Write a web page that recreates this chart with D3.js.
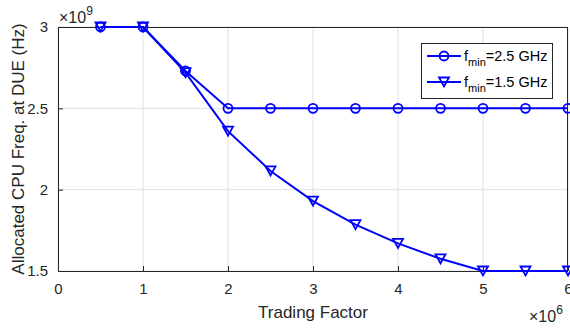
<!DOCTYPE html>
<html>
<head>
<meta charset="utf-8">
<script src="https://cdn.jsdelivr.net/npm/d3@7/dist/d3.min.js"></script>
<style>
  body { margin: 0; background: #fff; }
  svg { display: block; }
  text { font-family: "Liberation Sans", Arial, Helvetica, sans-serif; }
</style>
</head>
<body>
<svg id="chart" width="570" height="329"></svg>
<script>
// Trading factor (×10^6) and allocated CPU frequency (×10^9 Hz)
const tradingFactor = [0.5, 1, 1.5, 2, 2.5, 3, 3.5, 4, 4.5, 5, 5.5, 6];
const freqFmin25 = [3, 3, 2.73, 2.5, 2.5, 2.5, 2.5, 2.5, 2.5, 2.5, 2.5, 2.5];
const freqFmin15 = [3, 3, 2.72, 2.36, 2.115, 1.93, 1.785, 1.67, 1.575, 1.5, 1.5, 1.5];
const xTicks = [0, 1, 2, 3, 4, 5, 6];
const yTicks = [1.5, 2, 2.5, 3];
const seriesNames = ["2.5 GHz", "1.5 GHz"];

const svg = d3.select("#chart");
const m = { left: 58, right: 568, top: 27, bottom: 271 };
const x = d3.scaleLinear().domain([0, 6]).range([m.left, m.right]);
const y = d3.scaleLinear().domain([1.5, 3]).range([m.bottom, m.top]);
const axisColor = "#262626";
const blue = "#0000ff";

// grid
const grid = svg.append("g");
grid.selectAll("line.gx").data(xTicks).join("line")
  .attr("x1", d => x(d)).attr("x2", d => x(d))
  .attr("y1", m.top).attr("y2", m.bottom)
  .attr("stroke", "#dfdfdf").attr("stroke-width", 1);
grid.selectAll("line.gy").data(yTicks).join("line")
  .attr("y1", d => y(d)).attr("y2", d => y(d))
  .attr("x1", m.left).attr("x2", m.right)
  .attr("stroke", "#dfdfdf").attr("stroke-width", 1);

// axes (ticks pointing inward)
const xAxis = d3.axisBottom(x).tickValues(xTicks).tickFormat(d3.format("d")).tickSizeInner(-5).tickSizeOuter(0).tickPadding(12);
const yAxis = d3.axisLeft(y).tickValues(yTicks).tickFormat(d => d).tickSizeInner(-5).tickSizeOuter(0).tickPadding(10);
const gx = svg.append("g").attr("transform", `translate(0,${m.bottom})`).call(xAxis);
const gy = svg.append("g").attr("transform", `translate(${m.left},0)`).call(yAxis);
[gx, gy].forEach(g => {
  g.select(".domain").remove();
  g.selectAll("line").attr("stroke", axisColor);
  g.selectAll("text").attr("fill", axisColor).style("font-size", "15px");
});

// box
svg.append("rect")
  .attr("x", m.left + 0.5).attr("y", m.top + 0.5)
  .attr("width", m.right - m.left - 1).attr("height", m.bottom - m.top)
  .attr("fill", "none").attr("stroke", axisColor).attr("stroke-width", 1);

// exponent labels
const e9 = svg.append("text").attr("x", 59).attr("y", 23).attr("fill", axisColor).style("font-size", "16px");
e9.append("tspan").text("×10");
e9.append("tspan").attr("dy", -8).style("font-size", "12px").text("9");
const e6 = svg.append("text").attr("x", 529).attr("y", 322).attr("fill", axisColor).style("font-size", "16px");
e6.append("tspan").text("×10");
e6.append("tspan").attr("dy", -8).style("font-size", "12px").text("6");

// axis titles
svg.append("text").attr("x", 313).attr("y", 318).attr("text-anchor", "middle")
  .attr("fill", axisColor).style("font-size", "17px").text("Trading Factor");
svg.append("text").attr("transform", "translate(24,149) rotate(-90)").attr("text-anchor", "middle")
  .attr("fill", axisColor).style("font-size", "17px").text("Allocated CPU Freq. at DUE (Hz)");

// lines
const line = d3.line().x((d, i) => x(tradingFactor[i])).y(d => y(d));
const series = [freqFmin25, freqFmin15];
series.forEach(s => {
  svg.append("path").datum(s).attr("d", line)
    .attr("fill", "none").attr("stroke", blue).attr("stroke-width", 2);
});

// markers
const tri = "M-5,-4.5L5,-4.5L0,4.5Z";
svg.append("g").selectAll("circle").data(freqFmin25).join("circle")
  .attr("cx", (d, i) => x(tradingFactor[i])).attr("cy", d => y(d)).attr("r", 4.5)
  .attr("fill", "none").attr("stroke", blue).attr("stroke-width", 1.8);
svg.append("g").selectAll("path").data(freqFmin15).join("path")
  .attr("transform", (d, i) => `translate(${x(tradingFactor[i])},${y(d)})`)
  .attr("d", tri).attr("fill", "none").attr("stroke", blue).attr("stroke-width", 1.8);

// legend
const lg = svg.append("g");
lg.append("rect").attr("x", 421.5).attr("y", 43.5).attr("width", 131).attr("height", 55)
  .attr("fill", "#fff").attr("stroke", axisColor).attr("stroke-width", 1);
seriesNames.forEach((name, i) => {
  const cy = 56 + i * 26;
  lg.append("line").attr("x1", 427).attr("x2", 461).attr("y1", cy).attr("y2", cy)
    .attr("stroke", blue).attr("stroke-width", 2);
  if (i === 0) {
    lg.append("circle").attr("cx", 444).attr("cy", cy).attr("r", 4.5)
      .attr("fill", "none").attr("stroke", blue).attr("stroke-width", 1.8);
  } else {
    lg.append("path").attr("transform", `translate(444,${cy})`).attr("d", tri)
      .attr("fill", "none").attr("stroke", blue).attr("stroke-width", 1.8);
  }
  const t = lg.append("text").attr("x", 464).attr("y", cy + 5).attr("fill", "#000").style("font-size", "14.5px");
  t.append("tspan").text("f");
  t.append("tspan").attr("dy", 5).style("font-size", "11px").text("min");
  t.append("tspan").attr("dy", -5).text("=" + name);
});
</script>
</body>
</html>
